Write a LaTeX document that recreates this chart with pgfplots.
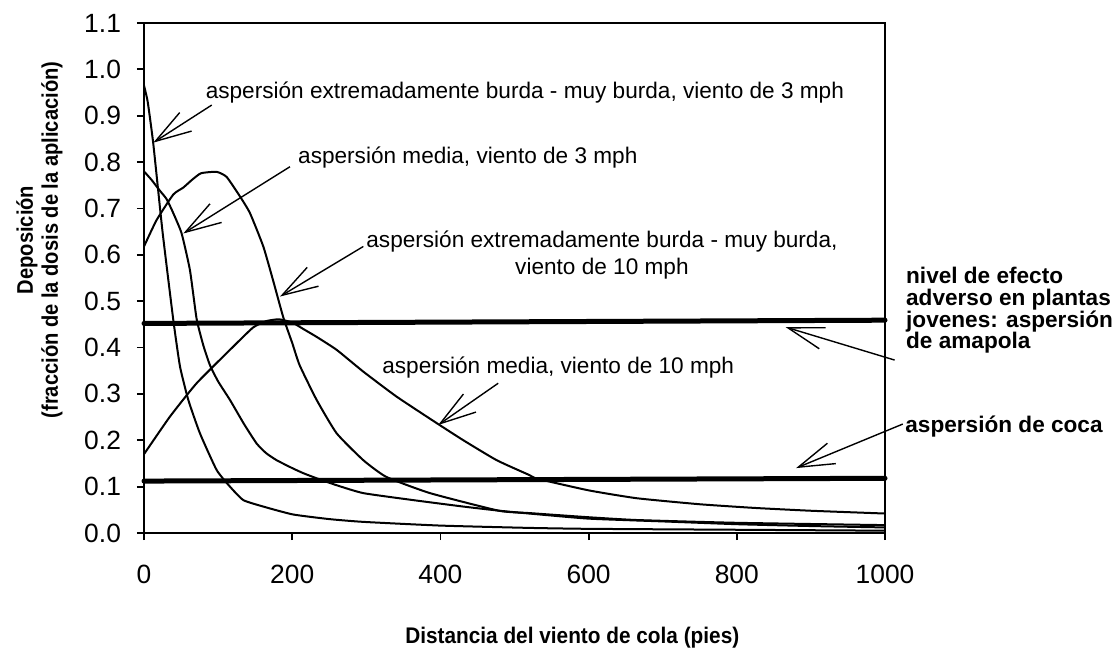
\documentclass[border=0pt]{standalone}
\usepackage{pgfplots}
\pgfplotsset{compat=1.18}
\usepackage{fontspec}
\setmainfont{Liberation Sans}
\usetikzlibrary{arrows.meta}

\begin{document}
\begin{tikzpicture}
\path[use as bounding box] (-72pt,-57.5pt) rectangle (484pt,266.5pt);
\begin{axis}[
  at={(0,0)}, anchor=south west,
  scale only axis, width=370.5pt, height=255pt,
  xmin=0, xmax=1000, ymin=0, ymax=1.1,
  xtick={0,200,400,600,800,1000},
  xticklabels={0,200,400,600,800,1000},
  ytick={0,0.1,0.2,0.3,0.4,0.5,0.6,0.7,0.8,0.9,1.0,1.1},
  yticklabels={0.0,0.1,0.2,0.3,0.4,0.5,0.6,0.7,0.8,0.9,1.0,1.1},
  tick align=outside, tick pos=left,
  major tick length=3.5pt,
  every tick/.style={black, line width=0.9pt},
  axis line style={line width=0.9pt},
  ticklabel style={font=\fontsize{13.2}{14}\selectfont},
  xticklabel style={yshift=-9pt},
  yticklabel style={xshift=-4.5pt},
  /pgf/number format/assume math mode=true,
  clip=false,
]
% extremadamente burda - muy burda, 3 mph
\addplot[black, line width=1pt, mark=none, smooth, tension=0.3] coordinates {
(0,0.965) (5,0.93) (12.5,0.84) (25,0.65) (39.5,0.46) (48.6,0.359) (59.8,0.287)
(75.5,0.215) (98,0.136) (116,0.10) (134,0.071) (161,0.057) (201,0.040)
(250,0.030) (296,0.024) (400,0.016) (520,0.011) (600,0.009) (800,0.007) (1000,0.005)};
% media, 3 mph
\addplot[black, line width=1pt, mark=none, smooth, tension=0.3] coordinates {
(0,0.78) (10,0.762) (21.6,0.738) (30.6,0.72) (39.5,0.69) (50.8,0.646) (62,0.567)
(71,0.462) (80,0.405) (89,0.362) (100,0.327) (116,0.287) (135,0.235) (152,0.193)
(165,0.172) (179,0.157) (200,0.140) (215,0.129) (233,0.118) (260,0.103) (296,0.086)
(363,0.071) (431,0.057) (480,0.048) (520,0.042) (600,0.031) (700,0.025) (800,0.019)
(900,0.015) (1000,0.012)};
% extremadamente burda - muy burda, 10 mph
\addplot[black, line width=1pt, mark=none, smooth, tension=0.3] coordinates {
(0,0.618) (17,0.675) (39.5,0.730) (53,0.745) (65,0.762) (77,0.776) (98,0.779)
(111.5,0.768) (129.5,0.726) (143,0.690) (161,0.618) (174,0.546) (188,0.465)
(200,0.410) (210,0.362) (233,0.287) (260,0.215) (296,0.157) (327,0.121) (386,0.086)
(479,0.048) (520,0.043) (600,0.034) (665,0.028) (800,0.022) (1000,0.017)};
% media, 10 mph
\addplot[black, line width=1pt, mark=none, smooth, tension=0.3] coordinates {
(0,0.170) (35,0.251) (71,0.323) (116,0.395) (147,0.443) (165,0.457) (182,0.461)
(200,0.454) (215,0.440) (233,0.423) (260,0.395) (296,0.348) (341,0.294) (395,0.237)
(431,0.200) (476,0.157) (520,0.125) (531,0.117) (600,0.092) (665,0.075) (750,0.062)
(825,0.054) (900,0.048) (1000,0.042)};
% thresholds
\addplot[black, mark=none, line width=2.5pt, line cap=round] coordinates {(0,0.452) (1000,0.459)};
\addplot[black, mark=none, line width=2.5pt, line cap=round] coordinates {(0,0.112) (1000,0.118)};

\tikzset{ann/.style={font=\fontsize{11.3}{13.5}\selectfont, inner sep=0pt},
         arr/.style={-{Straight Barb[length=18pt,width=11pt,line width=0.7pt]}, line width=0.7pt}}
\node[ann] at (axis cs:514,0.949) {aspersión extremadamente burda - muy burda, viento de 3 mph};
\node[ann] at (axis cs:437,0.809) {aspersión media, viento de 3 mph};
\node[ann, align=center] at (axis cs:618,0.600) {aspersión extremadamente burda - muy burda,\\viento de 10 mph};
\node[ann] at (axis cs:559,0.356) {aspersión media, viento de 10 mph};
\node[ann, font=\bfseries\fontsize{11.3}{10.9}\selectfont, anchor=west, align=left] at (axis cs:1028,0.480)
  {nivel de efecto\\adverso en plantas\\jovenes: aspersión\\de amapola};
\node[ann, font=\bfseries\fontsize{11.3}{13}\selectfont, anchor=west] at (axis cs:1027,0.229) {aspersión de coca};

\draw[arr] (axis cs:91.4,0.923) -- (axis cs:12.6,0.842);
\draw[arr] (axis cs:197,0.790) -- (axis cs:53,0.646);
\draw[arr] (axis cs:296,0.618) -- (axis cs:183.5,0.510);
\draw[arr] (axis cs:478,0.323) -- (axis cs:397,0.233);
\draw[arr] (axis cs:1013,0.373) -- (axis cs:866,0.444);
\draw[arr] (axis cs:1024,0.235) -- (axis cs:880,0.140);

\node[font=\bfseries\fontsize{11.3}{13}\selectfont] at (axis cs:578,-0.226)
  {\scalebox{0.92}[1]{Distancia del viento de cola (pies)}};
\node[font=\bfseries\fontsize{11.3}{12.5}\selectfont, rotate=90, align=center] at (axis cs:-141,0.632)
  {\scalebox{0.89}[1]{Deposición}\\\scalebox{0.89}[1]{(fracción de la dosis de la aplicación)}};
\end{axis}
\end{tikzpicture}
\end{document}
